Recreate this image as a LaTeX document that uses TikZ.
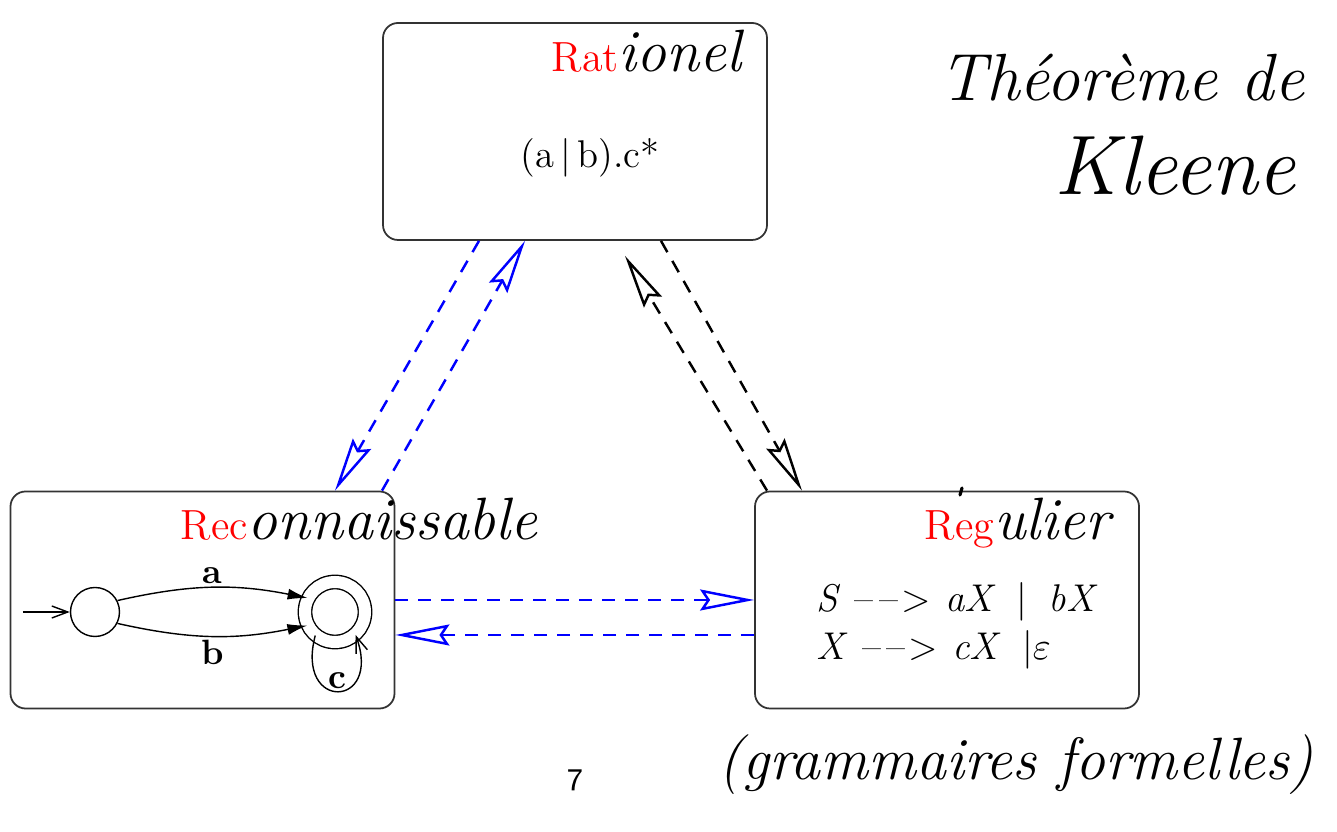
\documentclass[tikz,border=0pt]{standalone}
\usepackage{tikz}
\usetikzlibrary{positioning, arrows.meta}
\definecolor{boxgray}{HTML}{333333}
\newcommand{\hw}{\itshape\fontsize{17}{20}\selectfont}
\newcommand{\prodto}{\textendash\kern1.5pt\textendash\kern1pt>}

\begin{document}
\begin{tikzpicture}[box/.style={draw=boxgray, line width=0.5pt, rounded corners=0.15cm, minimum width=3.84cm, minimum height=2.17cm},ttl/.style={anchor=base west, inner sep=0pt, font=\large, color=red},hand/.style={inner sep=0pt, font=\hw},gtxt/.style={anchor=base west, inner sep=0pt, font=\fontsize{11}{13}\selectfont},st/.style={draw, circle, inner sep=0pt, minimum size=0.49cm},fin/.style={st, minimum size=0.6cm, double, double distance=0.12cm},lbl/.style={font=\normalsize\bfseries, inner sep=1pt},blu/.style={blue, line width=0.7pt, dash pattern=on 0.13cm off 0.1cm, -{Stealth[open, length=0.54cm, width=0.21cm, inset=0.07cm]}},blk/.style={blu, black}]
\useasboundingbox (0,0) rectangle (13.37,8.32);
\node[box] (rat) at (5.75,7.005) {};
\node[box] (rec) at (2.025,2.32) {};
\node[box] (reg) at (9.47,2.32) {};
\node[ttl] (ratl) at (5.51,7.60) {Rat{\color{black}\hw ionel}};
\node[font=\fontsize{11}{13}\selectfont] (ratx) at (5.90,6.74) {(a\,\textbar\,b).c*};
\node[ttl] (recl) at (1.80,2.92) {Rec{\color{black}\hw onnaissable}};
\node[ttl] (regl) at (9.24,2.92) {Reg{\color{black}\hw ulier}};
\draw[line width=0.9pt, line cap=round] (9.60,3.37) -- (9.62,3.44);
\node[gtxt] (g1) at (8.16,2.20) {\textit{S}\hspace{4pt}\prodto\hspace{4pt}\textit{aX}\hspace{6pt}\textbar\hspace{6pt}\textit{bX}};
\node[gtxt] (g2) at ([yshift=-0.48cm]g1.base west) {\textit{X}\hspace{4pt}\prodto\hspace{4pt}\textit{cX}\hspace{6pt}\textbar$\varepsilon$};
\node[st] (q0) at (0.95,2.20) {};
\node[fin] (q1) at (3.35,2.20) {};
\coordinate (q0in) at (0.23,2.20);
\draw[-{Straight Barb[length=0.16cm, width=0.12cm]}] (q0in) -- (q0);
\draw[-{Latex[length=0.2cm, width=0.11cm]}] (q0.27) to[bend left=12] node[lbl, above] {a} (q1.153);
\draw[-{Latex[length=0.2cm, width=0.11cm]}] (q0.-27) to[bend right=12] node[lbl, below] {b} (q1.-154);
\draw[-{Straight Barb[length=0.16cm, width=0.12cm]}] (q1.-130) to[out=-105, in=-70, looseness=5] node[lbl, above, inner sep=0.5pt] {c} (q1.-48);
\draw[blu] ([xshift=-0.96cm]rat.south) -- ([xshift=1.325cm]rec.north);
\draw[blu] ([xshift=1.795cm]rec.north) -- ([xshift=-0.5cm]rat.south);
\draw[blk] ([xshift=0.86cm]rat.south) -- ([xshift=-1.45cm]reg.north);
\draw[blk] ([xshift=-1.8cm]reg.north) -- ([xshift=0.5cm, yshift=-0.15cm]rat.south);
\draw[blu] (rec.east) -- (reg.west);
\draw[blu] ([yshift=-0.35cm]reg.west) -- ([yshift=-0.35cm]rec.east);
\node[font=\sffamily\small] (pg) at (5.75,0.52) {7};
\node[hand, font=\itshape\fontsize{19}{22}\selectfont] (thm) at (11.22,7.54) {Théorème de};
\node[hand, font=\itshape\fontsize{24}{28}\selectfont] (kl) at (11.75,6.66) {Kleene};
\node[hand] (gf) at (10.16,0.67) {(grammaires formelles)};
\end{tikzpicture}
\end{document}
